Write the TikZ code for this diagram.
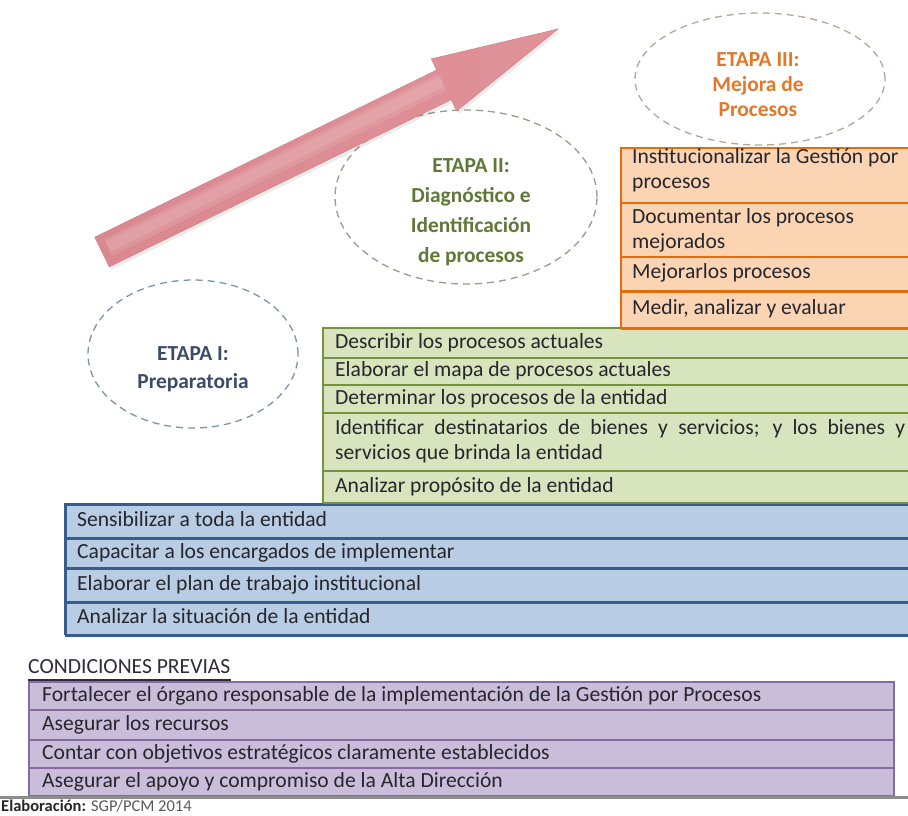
\documentclass[tikz,border=0pt]{standalone}
\usepackage{fontspec}
\setmainfont{Carlito}
\usetikzlibrary{shapes.geometric}

% palette
\definecolor{orfill}{RGB}{251,212,180}
\definecolor{ordraw}{RGB}{228,108,10}
\definecolor{grfill}{RGB}{215,228,189}
\definecolor{grdraw}{RGB}{118,146,60}
\definecolor{blfill}{RGB}{184,204,228}
\definecolor{bldraw}{RGB}{56,93,138}
\definecolor{pufill}{RGB}{202,189,218}
\definecolor{pudraw}{RGB}{132,108,162}
\definecolor{txt}{RGB}{38,38,44}
\definecolor{etapaI}{RGB}{60,75,105}
\definecolor{etapaII}{RGB}{95,120,55}
\definecolor{etapaIII}{RGB}{228,120,40}
\definecolor{dashI}{RGB}{120,150,175}
\definecolor{dashII}{RGB}{150,158,140}
\definecolor{dashIII}{RGB}{185,165,150}
\definecolor{arrowA}{RGB}{218,136,144}
\definecolor{arrowB}{RGB}{238,192,197}
\definecolor{arrowC}{RGB}{224,146,153}
\definecolor{arrowedge}{RGB}{212,132,140}
\definecolor{condtxt}{RGB}{50,42,58}

\begin{document}
\begin{tikzpicture}[x=1pt,y=-1pt,
  rowfont/.style={font=\fontsize{21.6}{25}\selectfont},
  cell/.style={rowfont, anchor=west, inner sep=0pt, text=txt, align=left},
  oneline/.style={cell, text height=15pt, text depth=5pt},
  stage/.style={ellipse, draw, dash pattern=on 7pt off 5pt, line width=1.3pt, inner sep=0pt},
  stagetext/.style={font=\bfseries\fontsize{21.4}{#1}\selectfont, align=center, inner sep=0pt},
  band/.style={line width=#1},
]
\useasboundingbox (0,0) rectangle (908,816);
\fill[white] (0,0) rectangle (908,816);
\clip (0,0) rectangle (908,816);

% ---------- stage ellipses (under the arrow) ----------
\node[stage, draw=dashI, minimum width=210pt, minimum height=148pt] (e1) at (193,354) {};
\node[stage, draw=dashII, minimum width=262pt, minimum height=174pt] (e2) at (466,197) {};
\node[stage, draw=dashIII, minimum width=250pt, minimum height=132pt] (e3) at (760,79) {};

% ---------- rising arrow ----------
\begin{scope}[shift={(2,3)}]
  \fill[black, opacity=0.08] (94.8,237.2) -- (436.8,70.0) -- (431.3,58.9) -- (558,29)
        -- (456.7,110.9) -- (451.3,99.6) -- (109.3,266.8) -- cycle;
\end{scope}
\shade[left color=arrowA, middle color=arrowB, right color=arrowC, draw=arrowedge, line width=0.6pt]
  (94.8,237.2) -- (436.8,70.0) -- (431.3,58.9) -- (558,29)
  -- (456.7,110.9) -- (451.3,99.6) -- (109.3,266.8) -- cycle;
% soft light band along the shaft
\fill[white, opacity=0.10] (104.0,239.5) -- (438.0,74.0) -- (446.0,90.5) -- (112.0,256.0) -- cycle;
\fill[white, opacity=0.10] (106.0,241.5) -- (440.0,76.5) -- (444.5,86.0) -- (110.5,251.5) -- cycle;

% ---------- stage titles ----------
\node[stagetext=28, text=etapaI] (t1) at (193,369) {ETAPA I:\\Preparatoria};
\node[stagetext=30, text=etapaII] (t2) at (471,212) {ETAPA II:\\Diagnóstico e\\Identificación\\de procesos};
\node[stagetext=25, text=etapaIII] (t3) at (758,85) {ETAPA III:\\Mejora de\\Procesos};

% ---------- stage I block (blue) ----------
\fill[blfill] (65,504.5) rectangle (915,635);
\draw[bldraw, band=3pt] (65,635) -- (65,504.5) -- (915,504.5);
\draw[bldraw, band=3pt] (65,538) -- (915,538);
\draw[bldraw, band=3pt] (65,568) -- (915,568);
\draw[bldraw, band=3pt] (65,602) -- (915,602);
\draw[bldraw, band=3pt] (65,635) -- (915,635);
\node[oneline] (b1) at (77,521) {Sensibilizar a toda la entidad};
\node[oneline] (b2) at (77,553) {Capacitar a los encargados de implementar};
\node[oneline] (b3) at (77,585) {Elaborar el plan de trabajo institucional};
\node[oneline] (b4) at (77,618.5) {Analizar la situación de la entidad};

% ---------- stage II block (green) ----------
\fill[grfill] (323,328) rectangle (915,502.5);
\draw[grdraw, band=2.5pt] (323,502.5) -- (323,328) -- (915,328);
\draw[grdraw, band=2.5pt] (323,358) -- (915,358);
\draw[grdraw, band=2.5pt] (323,385) -- (915,385);
\draw[grdraw, band=2.5pt] (323,413) -- (915,413);
\draw[grdraw, band=2.5pt] (323,471) -- (915,471);
\draw[grdraw, band=2pt] (323,502.5) -- (915,502.5);
\node[oneline] (g1) at (335,343) {Describir los procesos actuales};
\node[oneline] (g2) at (335,371.5) {Elaborar el mapa de procesos actuales};
\node[oneline] (g3) at (335,399) {Determinar los procesos de la entidad};
\node[cell] (g4) at (335,441)
  {\makebox[570pt][s]{Identificar destinatarios de bienes y servicios; y los bienes y}\\servicios que brinda la entidad};
\node[oneline] (g5) at (335,487.5) {Analizar propósito de la entidad};

% ---------- stage III block (orange) ----------
\fill[orfill] (621,148) rectangle (915,328);
\draw[ordraw, band=2.5pt] (621,328) -- (621,148) -- (915,148);
\draw[ordraw, band=2.5pt] (621,203) -- (915,203);
\draw[ordraw, band=2.5pt] (621,257) -- (915,257);
\draw[ordraw, band=3pt] (621,291) -- (915,291);
\draw[ordraw, band=3pt] (621,328) -- (915,328);
\node[cell] (o1) at (632,170) {Institucionalizar la Gestión por\\procesos};
\node[cell] (o2) at (632,230) {Documentar los procesos\\mejorados};
\node[oneline] (o3) at (632,273.5) {Mejorarlos procesos};
\node[oneline] (o4) at (632,309.5) {Medir, analizar y evaluar};

% ---------- prior conditions (purple) ----------
\node[oneline, text=condtxt] (cond) at (28,668) {CONDICIONES PREVIAS};
\draw[condtxt, line width=2.5pt] ([yshift=-2pt]cond.south west) -- ([yshift=-2pt]cond.south east);

\fill[pufill] (29,682) rectangle (894,796);
\draw[pudraw, band=1.5pt] (29,682) rectangle (894,796);
\draw[pudraw, band=1.5pt] (29,710) -- (894,710);
\draw[pudraw, band=1.5pt] (29,740) -- (894,740);
\draw[pudraw, band=1.5pt] (29,768) -- (894,768);
\node[oneline] (p1) at (42,696) {Fortalecer el órgano responsable de la implementación de la Gestión por Procesos};
\node[oneline] (p2) at (42,725) {Asegurar los recursos};
\node[oneline] (p3) at (42,754) {Contar con objetivos estratégicos claramente establecidos};
\node[oneline] (p4) at (42,782) {Asegurar el apoyo y compromiso de la Alta Dirección};

\draw[black!45, line width=2.5pt] (0,797.5) -- (908,797.5);

% ---------- source line ----------
\node[anchor=west, inner sep=0pt, font=\fontsize{16.5}{19}\selectfont, text=black!85] (src) at (1,806.5)
  {\textbf{Elaboración:} \textcolor{black!65}{SGP/PCM 2014}};
\end{tikzpicture}
\end{document}
